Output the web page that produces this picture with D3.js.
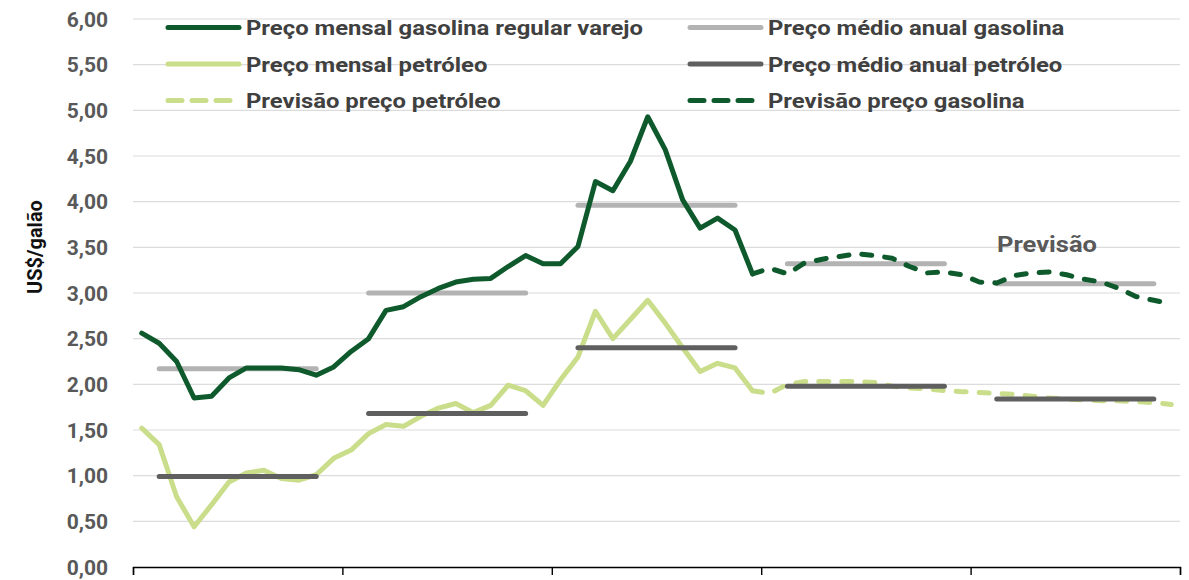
<!DOCTYPE html>
<html>
<head>
<meta charset="utf-8">
<script src="https://cdn.jsdelivr.net/npm/d3@7"></script>
<style>
  body { margin: 0; background: #ffffff; }
  text { font-family: Roboto, "Noto Sans", sans-serif; font-weight: bold; }
</style>
</head>
<body>
<svg id="chart" width="1189" height="580"></svg>
<script>
// monthly values, 5 years x 12 months
var years = ['2020', '2021', '2022', '2023', '2024'];
var yTicks = [0, 0.5, 1, 1.5, 2, 2.5, 3, 3.5, 4, 4.5, 5, 5.5, 6];

var gasolinaMensal = [2.56, 2.45, 2.25, 1.85, 1.87, 2.07, 2.18, 2.18, 2.18, 2.16, 2.10, 2.19,
  2.36, 2.50, 2.81, 2.85, 2.96, 3.05, 3.12, 3.15, 3.16, 3.29, 3.41, 3.32,
  3.32, 3.51, 4.22, 4.12, 4.44, 4.93, 4.57, 4.02, 3.71, 3.82, 3.69, 3.21];
var petroleoMensal = [1.52, 1.34, 0.77, 0.44, 0.68, 0.93, 1.03, 1.06, 0.97, 0.95, 1.01, 1.19,
  1.28, 1.46, 1.56, 1.54, 1.65, 1.74, 1.79, 1.69, 1.77, 1.99, 1.93, 1.77,
  2.05, 2.30, 2.80, 2.50, 2.71, 2.92, 2.67, 2.40, 2.14, 2.23, 2.18, 1.93];
// forecast starts at month 35 (last real value)
var gasolinaPrevisao = [3.21, 3.27, 3.21, 3.33, 3.37, 3.40, 3.43, 3.41, 3.38, 3.29, 3.22, 3.23, 3.20,
  3.12, 3.11, 3.19, 3.22, 3.23, 3.20, 3.15, 3.12, 3.05, 2.96, 2.92, 2.88];
var petroleoPrevisao = [1.93, 1.90, 2.00, 2.03, 2.03, 2.03, 2.03, 2.02, 1.98, 1.96, 1.95, 1.93, 1.92,
  1.91, 1.90, 1.89, 1.87, 1.85, 1.84, 1.83, 1.82, 1.82, 1.81, 1.80, 1.78];
var gasolinaMedia = [2.17, 3.00, 3.96, 3.32, 3.10];
var petroleoMedia = [0.99, 1.68, 2.40, 1.98, 1.84];

var legendItems = [
  {label: 'Preço mensal gasolina regular varejo', color: '#0e5a2c', dash: null, col: 0, row: 0},
  {label: 'Preço mensal petróleo', color: '#cadd8a', dash: null, col: 0, row: 1},
  {label: 'Previsão preço petróleo', color: '#cadd8a', dash: '14,10', col: 0, row: 2},
  {label: 'Preço médio anual gasolina', color: '#b3b3b3', dash: null, col: 1, row: 0},
  {label: 'Preço médio anual petróleo', color: '#5f5f5f', dash: null, col: 1, row: 1},
  {label: 'Previsão preço gasolina', color: '#0e5a2c', dash: '14,10', col: 1, row: 2}
];

var svg = d3.select('#chart');
var x = d3.scaleLinear().domain([0, years.length * 12]).range([133, 1180]);
var y = d3.scaleLinear().domain([0, 6]).range([567, 19]);

// gridlines
svg.append('g').selectAll('line').data(yTicks.slice(1))
  .enter().append('line')
    .attr('x1', x(0)).attr('x2', x(60))
    .attr('y1', function(d) { return y(d); })
    .attr('y2', function(d) { return y(d); })
    .attr('stroke', '#dcdcdc')
    .attr('stroke-width', 1.2);

// y labels
svg.append('g').selectAll('text').data(yTicks)
  .enter().append('text')
    .attr('x', 108)
    .attr('y', function(d) { return y(d); })
    .attr('dy', '0.36em')
    .attr('text-anchor', 'end')
    .attr('font-size', 21)
    .attr('fill', '#595959')
    .text(function(d) { return d3.format('.2f')(d).replace('.', ','); });

svg.append('text')
  .attr('transform', 'translate(42,247) rotate(-90)')
  .attr('text-anchor', 'middle')
  .attr('font-size', 20)
  .attr('fill', '#111111')
  .text('US$/galão');

// x axis with year ticks
var xAxis = d3.axisBottom(x)
  .tickValues(d3.range(0, years.length * 12 + 1, 12))
  .tickSize(8)
  .tickFormat('');
svg.append('g')
  .attr('transform', 'translate(0,' + y(0) + ')')
  .call(xAxis)
  .call(function(g) {
    g.select('.domain').attr('stroke', '#000').attr('stroke-width', 1.4);
    g.selectAll('.tick line').attr('stroke', '#000').attr('stroke-width', 1.4);
  });

// annual averages, month 1 to month 10 of each year
function drawAverages(values, color) {
  svg.append('g').selectAll('line').data(values)
    .enter().append('line')
      .attr('x1', function(d, i) { return x(i * 12 + 1.5); })
      .attr('x2', function(d, i) { return x(i * 12 + 10.5); })
      .attr('y1', function(d) { return y(d); })
      .attr('y2', function(d) { return y(d); })
      .attr('stroke', color)
      .attr('stroke-width', 5)
      .attr('stroke-linecap', 'round');
}

function drawSeries(values, start, color, dash) {
  var line = d3.line()
    .x(function(d, i) { return x(start + i + 0.5); })
    .y(function(d) { return y(d); });
  svg.append('path')
    .datum(values)
    .attr('d', line)
    .attr('fill', 'none')
    .attr('stroke', color)
    .attr('stroke-width', 5)
    .attr('stroke-linejoin', 'round')
    .attr('stroke-linecap', 'round')
    .attr('stroke-dasharray', dash);
}

drawSeries(petroleoMensal, 0, '#cadd8a', null);
drawSeries(petroleoPrevisao, 35, '#cadd8a', '10,13');
drawAverages(petroleoMedia, '#5f5f5f');
drawAverages(gasolinaMedia, '#b3b3b3');
drawSeries(gasolinaMensal, 0, '#0e5a2c', null);
drawSeries(gasolinaPrevisao, 35, '#0e5a2c', '10,13');

// text in the source is a bit wider than the font, stretch it
svg.append('text')
  .attr('transform', 'translate(997,252) scale(1.16,1)')
  .attr('font-size', 22)
  .attr('fill', '#595959')
  .text('Previsão');

// legend
var legend = svg.append('g').selectAll('g').data(legendItems)
  .enter().append('g')
    .attr('transform', function(d) {
      return 'translate(' + (d.col ? 690 : 168) + ',' + (27.5 + d.row * 36.5) + ')';
    });
legend.append('line')
  .attr('x1', 0)
  .attr('x2', function(d) { return d.dash ? 62 : 71; })
  .attr('stroke', function(d) { return d.color; })
  .attr('stroke-width', 5)
  .attr('stroke-linecap', 'round')
  .attr('stroke-dasharray', function(d) { return d.dash; });
legend.append('text')
  .attr('transform', 'translate(78,0) scale(1.135,1)')
  .attr('dy', '0.36em')
  .attr('font-size', 21)
  .attr('fill', '#404040')
  .text(function(d) { return d.label; });
</script>
</body>
</html>
